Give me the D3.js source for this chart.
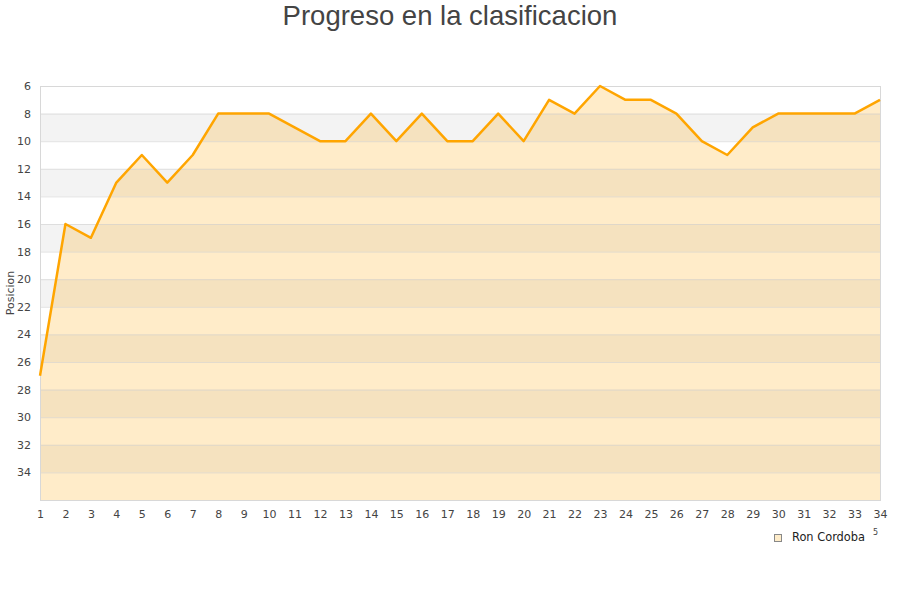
<!DOCTYPE html>
<html>
<head>
<meta charset="utf-8">
<script src="https://cdn.jsdelivr.net/npm/d3@7/dist/d3.min.js"></script>
<style>
  body { margin: 0; background: #fff; }
  text { font-family: "DejaVu Sans", sans-serif; }
</style>
</head>
<body>
<div id="chart"></div>
<script>
/* data */
var jornadas = d3.range(1, 35);
var posiciones = [27, 16, 17, 13, 11, 13, 11, 8, 8, 8, 9, 10, 10, 8, 10, 8, 10, 10, 8, 10,
                  7, 8, 6, 7, 7, 8, 10, 11, 9, 8, 8, 8, 8, 7];
var yTicks = d3.range(6, 36, 2);
var serieName = "Ron Cordoba";

/* size and style (note: "top" is a reserved window property, so use plot* names) */
var width = 900, height = 600;
var plotLeft = 40, plotRight = 880, plotTop = 86, plotBottom = 500;
var lineColor = "#ffa500";

var svg = d3.select("#chart").append("svg")
  .attr("width", width)
  .attr("height", height);

var x = d3.scaleLinear().domain([1, 34]).range([plotLeft, plotRight]);
var y = d3.scaleLinear().domain([6, 36]).range([plotTop, plotBottom]);

/* alternating background bands */
svg.selectAll("rect.band")
  .data(yTicks.filter(function(d) { return d % 4 === 0; }))
  .enter().append("rect")
    .attr("class", "band")
    .attr("x", plotLeft)
    .attr("y", function(d) { return y(d); })
    .attr("width", plotRight - plotLeft)
    .attr("height", function(d) { return y(d + 2) - y(d); })
    .attr("fill", "#f3f3f3");

/* area under the line */
var area = d3.area()
  .x(function(d, i) { return x(jornadas[i]); })
  .y0(y(36))
  .y1(function(d) { return y(d); });

svg.append("path")
  .datum(posiciones)
  .attr("d", area)
  .attr("fill", lineColor)
  .attr("fill-opacity", 0.21);

/* grid lines */
svg.selectAll("line.grid")
  .data(yTicks.slice(1))
  .enter().append("line")
    .attr("class", "grid")
    .attr("x1", plotLeft).attr("x2", plotRight)
    .attr("y1", function(d) { return y(d) + 0.5; })
    .attr("y2", function(d) { return y(d) + 0.5; })
    .attr("stroke", "#d0d0d0")
    .attr("stroke-opacity", 0.6);

/* frame */
svg.append("rect")
  .attr("x", plotLeft + 0.5).attr("y", plotTop + 0.5)
  .attr("width", plotRight - plotLeft).attr("height", plotBottom - plotTop)
  .attr("fill", "none")
  .attr("stroke", "#d8d8d8");

/* the line */
var line = d3.line()
  .x(function(d, i) { return x(jornadas[i]); })
  .y(function(d) { return y(d); });

svg.append("path")
  .datum(posiciones)
  .attr("d", line)
  .attr("fill", "none")
  .attr("stroke", lineColor)
  .attr("stroke-width", 2.5)
  .attr("stroke-linejoin", "round");

/* axes */
var yAxis = svg.append("g")
  .attr("transform", "translate(" + plotLeft + ",0)")
  .call(d3.axisLeft(y).tickValues(yTicks).tickSize(0).tickPadding(9));
yAxis.select(".domain").remove();
yAxis.selectAll("text").style("font-size", "11px").attr("fill", "#444");

var xAxis = svg.append("g")
  .attr("transform", "translate(0," + plotBottom + ")")
  .call(d3.axisBottom(x).tickValues(jornadas).tickFormat(d3.format("d")).tickSize(0).tickPadding(10));
xAxis.select(".domain").remove();
xAxis.selectAll("text").style("font-size", "11px").attr("fill", "#444");

/* axis title */
svg.append("text")
  .attr("transform", "translate(14,293) rotate(-90)")
  .attr("text-anchor", "middle")
  .style("font-size", "11px")
  .attr("fill", "#444")
  .text("Posicion");

/* chart title */
svg.append("text")
  .attr("x", width / 2)
  .attr("y", 25)
  .attr("text-anchor", "middle")
  .style("font-family", "'Liberation Sans', Arial, sans-serif")
  .style("font-size", "27.5px")
  .attr("fill", "#444")
  .text("Progreso en la clasificacion");

/* legend */
svg.append("rect")
  .attr("x", 774.5).attr("y", 534.5)
  .attr("width", 7).attr("height", 7)
  .attr("fill", "#feecc9")
  .attr("stroke", "#888");

svg.append("text")
  .attr("x", 792)
  .attr("y", 541)
  .style("font-size", "11.4px")
  .attr("fill", "#222")
  .text(serieName);

svg.append("text")
  .attr("x", 873)
  .attr("y", 535)
  .style("font-size", "8px")
  .attr("fill", "#444")
  .text("5");
</script>
</body>
</html>
